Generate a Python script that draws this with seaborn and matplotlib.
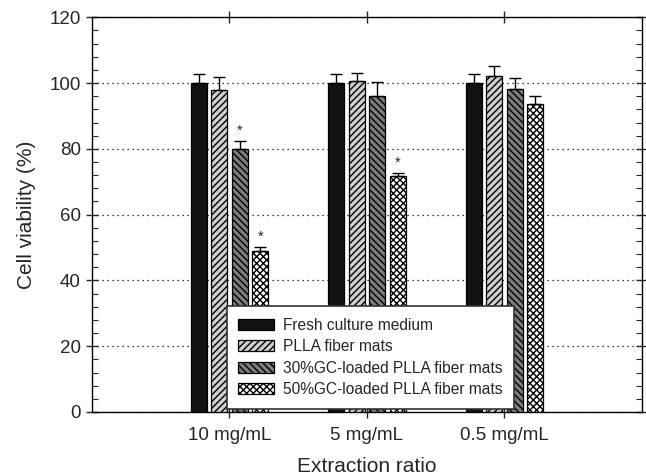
import numpy as np
import pandas as pd
import matplotlib
matplotlib.use("Agg")
import matplotlib.pyplot as plt
import matplotlib.patches as mpatches
from matplotlib.ticker import MultipleLocator
import seaborn as sns

categories = ["10 mg/mL", "5 mg/mL", "0.5 mg/mL"]
groups = ["Fresh culture medium", "PLLA fiber mats",
          "30%GC-loaded PLLA fiber mats", "50%GC-loaded PLLA fiber mats"]
fresh = [100.0, 100.0, 100.0]
plla = [97.8, 100.5, 102.2]
gc30 = [80.1, 96.2, 98.3]
gc50 = [48.8, 71.6, 93.6]
fresh_err = [2.8, 2.8, 2.8]
plla_err = [4.1, 2.6, 3.0]
gc30_err = [2.3, 4.2, 3.3]
gc50_err = [1.4, 1.1, 2.6]
significant = [[False, False, False], [False, False, False],
               [True, False, False], [True, True, False]]

values = [fresh, plla, gc30, gc50]
errors = [fresh_err, plla_err, gc30_err, gc50_err]
fills = ["#121212", "#cfcfcf", "#7c7c7c", "#ffffff"]
hatches = ["", "/////", "\\\\\\\\\\", "xxxxx"]

rows = []
for g, vals in zip(groups, values):
    for c, v in zip(categories, vals):
        rows.append({"ratio": c, "group": g, "viability": v})
df = pd.DataFrame(rows)

sns.set_style("ticks")
plt.rcParams["font.family"] = ["Liberation Sans", "DejaVu Sans"]
plt.rcParams["hatch.linewidth"] = 1.0

fig = plt.figure(figsize=(6.46, 4.76), dpi=100)
ax = fig.add_axes([0.1424, 0.1345, 0.8514, 0.8292])

sns.barplot(data=df, x="ratio", y="viability", hue="group", order=categories,
            hue_order=groups, palette=fills, saturation=1, width=0.6, gap=0.22,
            edgecolor="black", linewidth=0.9, errorbar=None, legend=False, ax=ax,
            zorder=3)

bar_conts = list(ax.containers)
for i, cont in enumerate(bar_conts):
    for j, bar in enumerate(cont.patches):
        bar.set_hatch(hatches[i])
        bar.set_edgecolor("black")
        x = bar.get_x() + bar.get_width() / 2
        h = bar.get_height()
        ax.errorbar(x, h, yerr=[[0], [errors[i][j]]], fmt="none", ecolor="black",
                    elinewidth=1, capsize=4.3, capthick=1, zorder=4)
        if significant[i][j]:
            ax.text(x, h + errors[i][j] + 1.0, "*", ha="center", va="bottom",
                    fontsize=10.5, zorder=5)

ax.set_xlim(-1, 3)
ax.set_ylim(0, 120)
ax.yaxis.set_major_locator(MultipleLocator(20))
ax.yaxis.set_minor_locator(MultipleLocator(4))
ax.yaxis.grid(True, which="major", linestyle=(0, (1, 3)), color="black", linewidth=0.9)
ax.set_axisbelow(True)

for s in ax.spines.values():
    s.set_visible(True)
    s.set_linewidth(1)
    s.set_color("black")

ax.tick_params(axis="y", which="major", direction="inout", length=8, width=1,
               left=True, right=True, labelsize=13.5, pad=4)
ax.tick_params(axis="y", which="minor", direction="in", length=4, width=0.8,
               left=True, right=True)
ax.tick_params(axis="x", which="major", direction="inout", length=9, width=1,
               bottom=True, top=True, labelsize=13.5, pad=6)

ax.set_xlabel("Extraction ratio", fontsize=15, labelpad=10)
ax.set_ylabel("Cell viability (%)", fontsize=15, labelpad=10)

handles = [mpatches.Patch(facecolor=fills[i], edgecolor="black", hatch=hatches[i],
                          linewidth=0.9, label=groups[i]) for i in range(4)]
leg = ax.legend(handles=handles, loc="lower left", bbox_to_anchor=(0.245, 0.008),
                fontsize=11.2, frameon=True, fancybox=False, framealpha=1,
                edgecolor="#333333", handlelength=2.3, handleheight=0.7,
                handletextpad=0.55, labelspacing=0.42, borderpad=0.75,
                borderaxespad=0)
leg.get_frame().set_linewidth(1.2)
leg.set_zorder(6)

fig.savefig("out.png", dpi=100)
